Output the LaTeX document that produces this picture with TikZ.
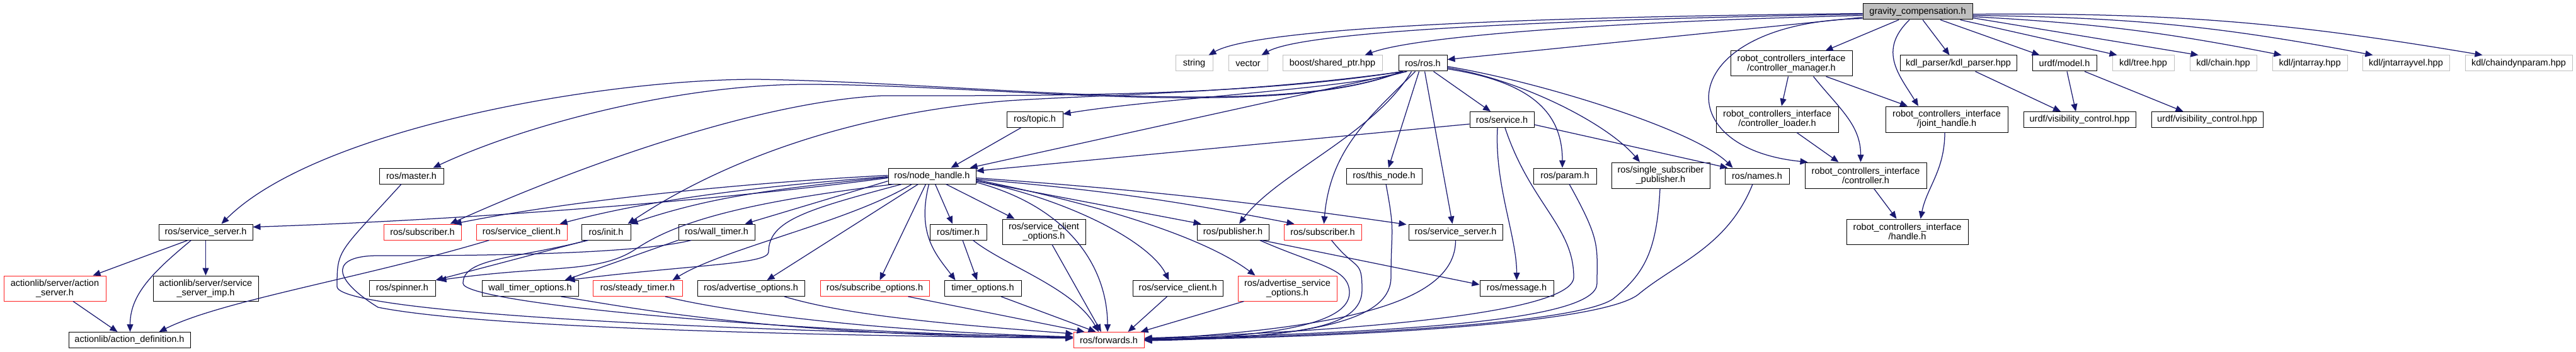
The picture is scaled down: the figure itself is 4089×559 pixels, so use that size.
\documentclass[tikz,border=0pt]{standalone}
\usepackage{fontspec}
\setmainfont{Liberation Sans}
\usetikzlibrary{arrows.meta,calc}
\definecolor{edgeblue}{HTML}{191970}
\definecolor{extgray}{HTML}{BFBFBF}
\definecolor{hdrred}{HTML}{FF2020}
\tikzset{
  hdr/.style={draw=black, line width=1pt, fill=white, inner sep=0pt,
    minimum height=25, align=center, font=\fontsize{14.5}{15}\selectfont},
  hdrtwo/.style={hdr, minimum height=41},
  hdrred/.style={hdr, draw=hdrred},
  hdrext/.style={hdr, draw=extgray},
  hdrmain/.style={hdr, fill=extgray},
  inc/.style={draw=edgeblue, line width=1.25pt}
}
\begin{document}
\begin{tikzpicture}[x=1pt, y=-1pt, >={Triangle[length=12pt,width=10pt]}]
\useasboundingbox (0,0) rectangle (4089,559);
% top
\node[hdrmain, minimum width=174] (gc) at (3044,18.5) {gravity\_compensation.h};
% row 1
\node[hdrext, minimum width=59] (str) at (1895.5,100.5) {string};
\node[hdrext, minimum width=62] (vec) at (1981,100.5) {vector};
\node[hdrext, minimum width=158] (bsp) at (2115,100.5) {boost/shared\_ptr.hpp};
\node[hdr, minimum width=77] (ros) at (2258.5,100.5) {ros/ros.h};
\node[hdrtwo, minimum width=193, minimum height=40] (cm) at (2843.5,101) {robot\_controllers\_interface\\/controller\_manager.h};
\node[hdr, minimum width=185] (kdlp) at (3108.5,100.5) {kdl\_parser/kdl\_parser.hpp};
\node[hdr, minimum width=102] (um) at (3277,100.5) {urdf/model.h};
\node[hdrext, minimum width=98] (kt) at (3402,100.5) {kdl/tree.hpp};
\node[hdrext, minimum width=106] (kc) at (3529,100.5) {kdl/chain.hpp};
\node[hdrext, minimum width=119] (kja) at (3666.5,100.5) {kdl/jntarray.hpp};
\node[hdrext, minimum width=138] (kjv) at (3819,100.5) {kdl/jntarrayvel.hpp};
\node[hdrext, minimum width=170] (kcdp) at (3998,100.5) {kdl/chaindynparam.hpp};
% row 2
\node[hdr, minimum width=89] (topic) at (1642.5,190) {ros/topic.h};
\node[hdr, minimum width=102] (srv) at (2384,190) {ros/service.h};
\node[hdrtwo, minimum width=194] (cl) at (2821,189.5) {robot\_controllers\_interface\\/controller\_loader.h};
\node[hdrtwo, minimum width=194] (jh) at (3090,189.5) {robot\_controllers\_interface\\/joint\_handle.h};
\node[hdr, minimum width=178] (uvc1) at (3301,190) {urdf/visibility\_control.hpp};
\node[hdr, minimum width=177] (uvc2) at (3503.5,190) {urdf/visibility\_control.hpp};
% row 3
\node[hdr, minimum width=102] (master) at (653,279.5) {ros/master.h};
\node[hdr, minimum width=139] (nh) at (1479.5,279.5) {ros/node\_handle.h};
\node[hdr, minimum width=120] (tn) at (2197,279.5) {ros/this\_node.h};
\node[hdr, minimum width=100] (par) at (2484,279.5) {ros/param.h};
\node[hdrtwo, minimum width=156] (ssp) at (2636,278.5) {ros/single\_subscriber\\\_publisher.h};
\node[hdr, minimum width=102] (nam) at (2789,279.5) {ros/names.h};
\node[hdrtwo, minimum width=193] (ctrl) at (2961.5,278.5) {robot\_controllers\_interface\\/controller.h};
% row 4
\node[hdr, minimum width=149] (ssL) at (326.5,368.5) {ros/service\_server.h};
\node[hdrred, minimum width=123] (subL) at (670.5,368.5) {ros/subscriber.h};
\node[hdrred, minimum width=144] (scL) at (828,368.5) {ros/service\_client.h};
\node[hdr, minimum width=78] (init) at (962,368.5) {ros/init.h};
\node[hdr, minimum width=121] (wt) at (1137.5,368.5) {ros/wall\_timer.h};
\node[hdr, minimum width=90] (tim) at (1521,368.5) {ros/timer.h};
\node[hdrtwo, minimum width=132, minimum height=40] (sco) at (1657,368) {ros/service\_client\\\_options.h};
\node[hdr, minimum width=114] (pub) at (1957,368.5) {ros/publisher.h};
\node[hdrred, minimum width=123] (subR) at (2099.5,368.5) {ros/subscriber.h};
\node[hdr, minimum width=149] (ssR) at (2310.5,368.5) {ros/service\_server.h};
\node[hdrtwo, minimum width=193, minimum height=40] (hdl) at (3027.5,368) {robot\_controllers\_interface\\/handle.h};
% row 5
\node[hdrred, minimum width=162, minimum height=40] (as) at (87,458) {actionlib/server/action\\\_server.h};
\node[hdr, minimum width=167, minimum height=40] (ssi) at (326.5,458) {actionlib/server/service\\\_server\_imp.h};
\node[hdr, minimum width=105] (spin) at (638.5,458) {ros/spinner.h};
\node[hdr, minimum width=153] (wto) at (841.5,458) {wall\_timer\_options.h};
\node[hdrred, minimum width=142] (st) at (1012,458) {ros/steady\_timer.h};
\node[hdr, minimum width=170] (ao) at (1192,458) {ros/advertise\_options.h};
\node[hdrred, minimum width=173] (so) at (1388.5,458) {ros/subscribe\_options.h};
\node[hdr, minimum width=122] (to) at (1560,458) {timer\_options.h};
\node[hdr, minimum width=143] (scH) at (1869.5,458) {ros/service\_client.h};
\node[hdrred, minimum width=157, minimum height=40] (aso) at (2043.5,458) {ros/advertise\_service\\\_options.h};
\node[hdr, minimum width=117] (msg) at (2407.5,458) {ros/message.h};
% row 6
\node[hdr, minimum width=193] (ad) at (205.5,540) {actionlib/action\_definition.h};
\node[hdrred, minimum width=112] (fwd) at (1760,540) {ros/forwards.h};

% gravity_compensation.h
\draw[inc, ->] ($(gc.west)+(0,3)$) .. controls +(-500,5) and +(80,-45) .. ($(str.north east)+(-7,0)$);
\draw[inc, ->] ($(gc.west)+(0,4)$) .. controls +(-450,8) and +(70,-40) .. ($(vec.north east)+(-10,0)$);
\draw[inc, ->] ($(gc.west)+(0,6)$) .. controls +(-400,10) and +(80,-30) .. ($(bsp.north east)+(-28,0)$);
\draw[inc, ->] ($(gc.west)+(0,9)$) -- ($(ros.east)+(0,-6)$);
\draw[inc, ->] ($(gc.west)+(0,11)$) .. controls +(-297,5) and +(-228,-23) .. ($(ctrl.north west)+(5,0)$);
\draw[inc, ->] ($(gc.south)+(-30,0)$) -- ($(cm.north)+(54,0)$);
\draw[inc, ->] ($(gc.south)+(-13,0)$) .. controls +(-51,49) and +(-30,-49) .. ($(jh.north)+(-45,0)$);
\draw[inc, ->] ($(gc.south)+(8,0)$) -- ($(kdlp.north)+(-14,0)$);
\draw[inc, ->] ($(gc.south)+(36,0)$) -- ($(um.north west)+(12,0)$);
\draw[inc, ->] ($(gc.south east)+(-20,0)$) -- ($(kt.north west)+(8,0)$);
\draw[inc, ->] ($(gc.east)+(0,10)$) -- ($(kc.north west)+(14,0)$);
\draw[inc, ->] ($(gc.east)+(0,8)$) to[bend left=4] ($(kja.north west)+(15,0)$);
\draw[inc, ->] ($(gc.east)+(0,6)$) to[bend left=5] ($(kjv.north west)+(17,0)$);
\draw[inc, ->] ($(gc.east)+(0,4)$) to[bend left=5] ($(kcdp.north west)+(28,0)$);

% robot_controllers_interface, kdl_parser, urdf
\draw[inc, ->] ($(cm.south)+(-5,0)$) -- ($(cl.north)+(7,0)$);
\draw[inc, ->] ($(cm.south)+(35,0)$) .. controls +(40,50) and +(0,-60) .. ($(ctrl.north)+(-8,0)$);
\draw[inc, ->] ($(cm.south)+(55,0)$) -- ($(jh.north)+(-62,0)$);
\draw[inc, ->] ($(cl.south)+(31,0)$) -- ($(ctrl.north west)+(54,0)$);
\draw[inc, ->] ($(jh.south)+(-3,0)$) .. controls +(0,60) and +(10,-50) .. ($(hdl.north)+(21,0)$);
\draw[inc, ->] ($(ctrl.south)+(13,0)$) -- ($(hdl.north)+(-17,0)$);
\draw[inc, ->] ($(kdlp.south)+(27,0)$) -- ($(uvc1.north)+(-30,0)$);
\draw[inc, ->] ($(um.south)+(4,0)$) -- ($(uvc1.north)+(-6,0)$);
\draw[inc, ->] ($(um.south)+(32,0)$) -- ($(uvc2.north)+(-38,0)$);

% ros/ros.h
\draw[inc, ->] ($(ros.south west)+(12,0)$) .. controls +(-82,27) and +(150,-25) .. ($(topic.north east)+(0,4)$);
\draw[inc, ->] ($(ros.south west)+(14,0)$) -- ($(nh.north east)+(-10,0)$);
\draw[inc, ->] ($(ros.south west)+(5,0)$) .. controls +(-200,80) and +(350,5) .. (1200,126)
  .. controls +(-250,0) and +(150,-150) .. ($(ssL.north)+(25,0)$);
\draw[inc, ->] ($(ros.south west)+(6,0)$) .. controls +(-200,80) and +(300,0) .. (1280,134)
  .. controls +(-200,0) and +(150,-70) .. ($(master.north east)+(-17,0)$);
\draw[inc, ->] ($(ros.south west)+(7,0)$) .. controls +(-250,40) and +(250,0) .. (1400,152)
  .. controls +(-200,10) and +(200,-90) .. ($(subL.north east)+(-18,0)$);
\draw[inc, ->] ($(ros.south west)+(8,0)$) .. controls +(-250,35) and +(150,-10) .. (1600,160)
  .. controls +(-250,20) and +(150,-100) .. ($(init.north east)+(-5,0)$);
\draw[inc, ->] ($(ros.south)+(-18,0)$) .. controls +(-60,100) and +(60,-80) .. ($(pub.north)+(10,0)$);
\draw[inc, ->] ($(ros.south)+(-12,0)$) .. controls +(-70,70) and +(10,-120) .. ($(subR.north)+(2,0)$);
\draw[inc, ->] ($(ros.south)+(-6,0)$) -- ($(tn.north)+(7,0)$);
\draw[inc, ->] ($(ros.south)+(3,0)$) -- ($(ssR.north)+(-5,0)$);
\draw[inc, ->] ($(ros.south east)+(-22,0)$) -- ($(srv.north)+(-18,0)$);
\draw[inc, ->] ($(ros.east)+(0,9)$) .. controls +(130,20) and +(0,-90) .. ($(par.north)+(-4,0)$);
\draw[inc, ->] ($(ros.east)+(0,7)$) .. controls +(120,20) and +(-50,-60) .. ($(ssp.north)+(-33,0)$);
\draw[inc, ->] ($(ros.east)+(0,5)$) .. controls +(150,25) and +(-60,-60) .. ($(nam.north west)+(13,0)$);

% ros/service.h, ros/topic.h
\draw[inc, ->] ($(srv.west)+(0,7)$) -- ($(nh.east)+(0,-8)$);
\draw[inc, ->] ($(srv.east)+(0,8)$) -- ($(nam.north west)+(5,0)$);
\draw[inc, ->] ($(srv.south)+(-7,0)$) .. controls +(-5,90) and +(0,-70) .. (msg.north);
\draw[inc, ->] ($(srv.south)+(5,0)$) .. controls +(40,120) and +(0,-80) .. (2498,440)
  .. controls +(0,60) and +(300,-10) .. ($(fwd.east)+(0,-3)$);
\draw[inc, ->] ($(topic.south west)+(23,0)$) -- ($(nh.north)+(30,0)$);

% ros/node_handle.h
\draw[inc, ->] ($(nh.west)+(0,3)$) .. controls +(-300,40) and +(300,-10) .. ($(ssL.east)+(0,-8)$);
\draw[inc, ->] ($(nh.west)+(0,-1)$) .. controls +(-200,10) and +(200,-40) .. ($(subL.north east)+(-12,0)$);
\draw[inc, ->] ($(nh.west)+(0,1)$) .. controls +(-200,15) and +(150,-40) .. ($(scL.north east)+(-12,0)$);
\draw[inc, ->] ($(nh.west)+(0,2)$) .. controls +(-200,20) and +(120,-40) .. ($(init.north east)+(-1,0)$);
\draw[inc, ->] ($(nh.south west)+(0,-5)$) -- ($(wt.north east)+(-16,0)$);
\draw[inc, ->] ($(nh.south west)+(10,0)$) .. controls +(-250,30) and +(60,-40) .. (1010,395)
  .. controls +(-60,40) and +(180,-25) .. ($(spin.north east)+(5,0)$);
\draw[inc, ->] ($(nh.south west)+(22,0)$) .. controls +(-150,40) and +(0,-50) .. (1220,400)
  .. controls +(0,20) and +(200,-25) .. ($(wto.north east)+(-18,0)$);
\draw[inc, ->] ($(nh.south west)+(38,0)$) .. controls +(-100,60) and +(80,-50) .. ($(st.north east)+(-16,0)$);
\draw[inc, ->] ($(nh.south west)+(48,0)$) -- ($(ao.north east)+(-60,0)$);
\draw[inc, ->] ($(nh.south)+(-10,0)$) -- ($(so.north)+(8,0)$);
\draw[inc, ->] ($(nh.south)+(-5,0)$) .. controls +(-20,80) and +(-30,-40) .. ($(to.north west)+(18,0)$);
\draw[inc, ->] ($(nh.south)+(5,0)$) -- ($(tim.north)+(-9,0)$);
\draw[inc, ->] ($(nh.south)+(22,0)$) -- ($(sco.north west)+(20,0)$);
\draw[inc, ->] ($(nh.south east)+(0,-3)$) .. controls +(150,40) and +(0,-100) .. ($(fwd.north)+(-2,0)$);
\draw[inc, ->] ($(nh.south east)+(0,-5)$) .. controls +(150,30) and +(-30,-60) .. ($(scH.north west)+(58,0)$);
\draw[inc, ->] ($(nh.south east)+(0,-7)$) .. controls +(200,40) and +(-80,-60) .. ($(aso.north west)+(28,0)$);
\draw[inc, ->] ($(nh.east)+(0,8)$) -- ($(pub.north west)+(7,0)$);
\draw[inc, ->] ($(nh.east)+(0,5)$) to[bend left=3] ($(subR.north west)+(17,0)$);
\draw[inc, ->] ($(nh.east)+(0,3)$) to[bend left=2] ($(ssR.north west)+(-3,1)$);

% actionlib side
\draw[inc, ->] ($(ssL.south)+(-28,0)$) -- ($(as.north east)+(-21,0)$);
\draw[inc, ->] (ssL.south) -- (ssi.north);
\draw[inc, ->] ($(ssL.south)+(-23,0)$) .. controls +(-60,50) and +(0,-60) .. ($(ad.north)+(1,0)$);
\draw[inc, ->] ($(as.south)+(29,0)$) -- ($(ad.north)+(-19,0)$);
\draw[inc, ->] ($(scL.south west)+(21,0)$) .. controls +(-200,60) and +(100,-50) .. ($(ad.north)+(47,0)$);
\draw[inc, ->] ($(init.south west)+(10,0)$) -- ($(spin.north east)+(0,0)$);
\draw[inc, ->] ($(wt.south west)+(0,0)$) -- ($(wto.north east)+(-22,0)$);

% into ros/forwards.h from the left
\draw[inc, ->] ($(master.south)+(-16,0)$) .. controls +(-100,110) and +(0,-60) .. (535,455)
  .. controls +(0,40) and +(-600,-10) .. ($(fwd.west)+(0,-5)$);
\draw[inc, ->] ($(init.south)+(-28,0)$) .. controls +(-120,30) and +(0,-40) .. (735,450)
  .. controls +(0,30) and +(-500,-10) .. ($(fwd.west)+(0,-4)$);
\draw[inc, ->] ($(wt.south)+(-40,0)$) .. controls +(-100,25) and +(100,0) .. (600,406)
  .. controls +(-70,0) and +(-80,-50) .. (600,488)
  .. controls +(150,30) and +(-500,-5) .. ($(fwd.west)+(0,-3)$);
\draw[inc, ->] ($(wto.south east)+(-28,0)$) .. controls +(100,15) and +(-500,-5) .. ($(fwd.west)+(0,-3)$);
\draw[inc, ->] ($(st.south)+(44,0)$) .. controls +(80,20) and +(-350,-10) .. ($(fwd.west)+(0,-5)$);
\draw[inc, ->] ($(ao.south)+(53,0)$) .. controls +(100,30) and +(-200,-15) .. ($(fwd.north west)+(0,3)$);
\draw[inc, ->] ($(so.south)+(53,0)$) -- ($(fwd.north west)+(18,0)$);
\draw[inc, ->] ($(to.south)+(29,0)$) -- ($(fwd.north west)+(36,0)$);
\draw[inc, ->] ($(tim.south)+(7,0)$) -- ($(to.north)+(-9,0)$);
\draw[inc, ->] ($(tim.south east)+(-22,0)$) .. controls +(50,40) and +(-40,-70) .. ($(fwd.north)+(-16,0)$);
\draw[inc, ->] ($(sco.south)+(13,0)$) -- ($(fwd.north)+(-12,0)$);
\draw[inc, ->] ($(scH.south)+(-17,0)$) -- ($(fwd.north east)+(-26,0)$);
\draw[inc, ->] ($(aso.south west)+(10,0)$) -- ($(fwd.north east)+(-6,0)$);

% into ros/forwards.h from the right
\draw[inc, ->] ($(pub.south east)+(-15,0)$) .. controls +(90,40) and +(0,-40) .. (2142,465)
  .. controls +(0,50) and +(200,-5) .. (fwd.east);
\draw[inc, ->] ($(pub.south east)+(-12,0)$) -- ($(msg.west)+(0,-6)$);
\draw[inc, ->] ($(subR.south)+(14,0)$) .. controls +(40,50) and +(0,-50) .. (2162,460)
  .. controls +(0,60) and +(250,-5) .. (fwd.east);
\draw[inc, ->] ($(tn.south)+(3,0)$) .. controls +(15,80) and +(0,-80) .. (2208,440)
  .. controls +(0,60) and +(300,-5) .. ($(fwd.east)+(0,1)$);
\draw[inc, ->] (ssR.south) .. controls +(0,90) and +(350,-20) .. ($(fwd.east)+(0,-1)$);
\draw[inc, ->] ($(par.south)+(7,0)$) .. controls +(50,90) and +(0,-60) .. (2535,450)
  .. controls +(0,60) and +(400,-10) .. ($(fwd.east)+(0,-2)$);
\draw[inc, ->] ($(ssp.south)+(-1,0)$) .. controls +(-5,100) and +(50,-40) .. (2560,475)
  .. controls +(-60,40) and +(300,-5) .. ($(fwd.east)+(0,-1)$);
\draw[inc, ->] ($(nam.south)+(-7,0)$) .. controls +(-40,100) and +(60,-50) .. (2600,468)
  .. controls +(-60,45) and +(350,-5) .. (fwd.east);
\end{tikzpicture}
\end{document}
